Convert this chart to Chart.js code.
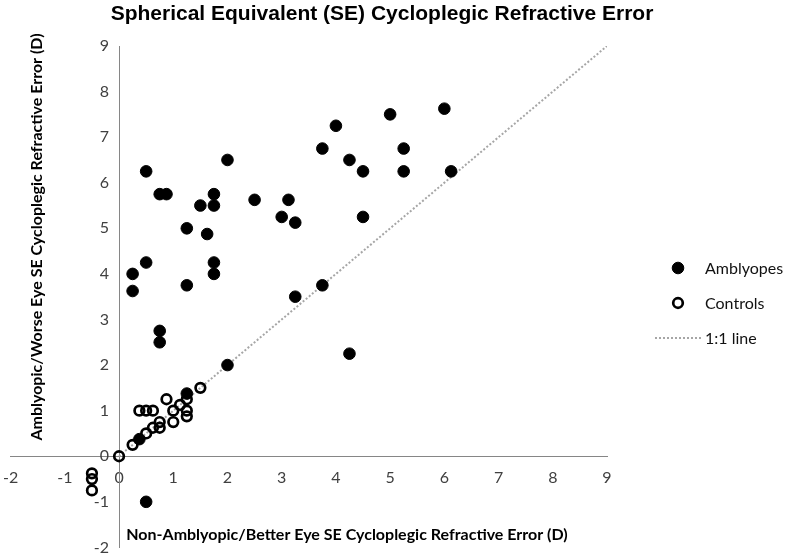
<!DOCTYPE html>
<html><head><meta charset="utf-8">
<script src="https://cdn.jsdelivr.net/npm/chart.js@4/dist/chart.umd.min.js"></script>
<style>html,body{margin:0;padding:0;background:#fff}#wrap{width:785px;height:560px}</style>
</head><body><div id="wrap"><canvas id="c" width="785" height="560"></canvas></div>
<script>
const chartTitle = 'Spherical Equivalent (SE) Cycloplegic Refractive Error';
const xAxisTitle = 'Non-Amblyopic/Better Eye SE Cycloplegic Refractive Error (D)';
const yAxisTitle = 'Amblyopic/Worse Eye SE Cycloplegic Refractive Error (D)';
const seriesNames = ['Amblyopes', 'Controls', '1:1 line'];

const amblyopesX = [0.5, 0.75, 0.875, 2, 1.75, 1.5, 1.75, 2.5, 3.125, 3, 3.25, 1.25, 1.625, 0.5, 1.75, 1.75, 0.25, 0.25, 1.25, 3.75, 3.25, 5, 4, 3.75, 4.25, 4.5, 4.5, 5.25, 5.25, 6, 6.125, 0.75, 0.75, 2, 4.25, 1.25, 0.375, 0.5];
const amblyopesY = [6.25, 5.75, 5.75, 6.5, 5.75, 5.5, 5.5, 5.625, 5.625, 5.25, 5.125, 5, 4.875, 4.25, 4.25, 4, 4, 3.625, 3.75, 3.75, 3.5, 7.5, 7.25, 6.75, 6.5, 6.25, 5.25, 6.75, 6.25, 7.625, 6.25, 2.75, 2.5, 2, 2.25, 1.375, 0.375, -1];

const controlsX = [0, -0.5, -0.5, -0.5, 0.25, 0.5, 0.625, 0.75, 0.75, 0.375, 0.5, 0.625, 0.875, 1, 1, 1.125, 1.25, 1.25, 1.25, 1.5];
const controlsY = [0, -0.375, -0.5, -0.75, 0.25, 0.5, 0.625, 0.75, 0.625, 1, 1, 1, 1.25, 1, 0.75, 1.125, 1.25, 1, 0.875, 1.5];

const unityLineX = [0, 9];
const unityLineY = [0, 9];

const axisMin = -2, axisMax = 9, axisStep = 1;

const toPoints = (xs, ys) => xs.map((x, i) => ({x: x, y: ys[i]}));

const tickFont = {family: 'Lato, "Open Sans", sans-serif', size: 16};
const tickColor = '#404040';
const axisColor = '#868686';

const decor = {
  id: 'decor',
  afterDraw(chart) {
    const ctx = chart.ctx;
    const ds = chart.data.datasets;
    ctx.save();
    ctx.fillStyle = '#000';
    ctx.textAlign = 'center';
    ctx.textBaseline = 'middle';
    ctx.font = 'bold 21px "Liberation Sans", Arial, sans-serif';
    ctx.fillText(chartTitle, 382, 14);

    ctx.font = 'bold 16px Lato, "Open Sans", sans-serif';
    ctx.fillText(xAxisTitle, 347, 535);
    ctx.save();
    ctx.translate(37, 237);
    ctx.rotate(-Math.PI / 2);
    ctx.fillText(yAxisTitle, 0, 0);
    ctx.restore();

    // legend
    const lx = 678, ly = [268, 303, 338], tx = 705;
    ctx.font = '16px Lato, "Open Sans", sans-serif';
    ctx.textAlign = 'left';
    ctx.beginPath();
    ctx.arc(lx, ly[0], ds[0].pointRadius, 0, Math.PI * 2);
    ctx.fillStyle = ds[0].backgroundColor; ctx.fill();
    ctx.lineWidth = ds[0].borderWidth; ctx.strokeStyle = ds[0].borderColor; ctx.stroke();
    ctx.beginPath();
    ctx.arc(lx, ly[1], ds[1].pointRadius, 0, Math.PI * 2);
    ctx.lineWidth = ds[1].borderWidth; ctx.strokeStyle = ds[1].borderColor; ctx.stroke();
    ctx.beginPath();
    ctx.setLineDash(ds[2].borderDash);
    ctx.lineWidth = ds[2].borderWidth; ctx.strokeStyle = ds[2].borderColor;
    ctx.moveTo(655, ly[2]); ctx.lineTo(701, ly[2]); ctx.stroke();
    ctx.setLineDash([]);
    ctx.fillStyle = '#111';
    for (let i = 0; i < 3; i++) ctx.fillText(seriesNames[i], tx, ly[i] + 1);
    ctx.restore();
  }
};

new Chart(document.getElementById('c'), {
  type: 'scatter',
  data: {
    datasets: [
      {
        label: seriesNames[0],
        data: toPoints(amblyopesX, amblyopesY),
        pointRadius: 5.8, pointHoverRadius: 5.8,
        backgroundColor: '#000', borderColor: '#000', borderWidth: 1,
        order: 2
      },
      {
        label: seriesNames[1],
        data: toPoints(controlsX, controlsY),
        pointRadius: 4.8, pointHoverRadius: 4.8,
        backgroundColor: 'rgba(0,0,0,0)', borderColor: '#000', borderWidth: 2.7,
        order: 1
      },
      {
        label: seriesNames[2],
        type: 'line',
        data: toPoints(unityLineX, unityLineY),
        showLine: true, pointRadius: 0, pointHoverRadius: 0,
        borderColor: '#A6A6A6', borderWidth: 2, borderDash: [2, 2],
        fill: false, tension: 0,
        order: 3
      }
    ]
  },
  options: {
    responsive: false,
    animation: false,
    devicePixelRatio: 1,
    layout: {padding: {left: 8, right: 178, top: 46, bottom: 8}},
    plugins: {legend: {display: false}, title: {display: false}, tooltip: {enabled: false}},
    scales: {
      x: {
        type: 'linear', min: axisMin, max: axisMax,
        position: {y: 0},
        grid: {display: true, drawOnChartArea: false, drawTicks: true, tickLength: 9, color: 'rgba(0,0,0,0)'},
        border: {display: true, color: axisColor, width: 1},
        ticks: {stepSize: axisStep, font: tickFont, color: tickColor, padding: 3, maxRotation: 0, autoSkip: false}
      },
      y: {
        type: 'linear', min: axisMin, max: axisMax,
        position: {x: 0},
        grid: {display: true, drawOnChartArea: false, drawTicks: true, tickLength: 8, color: 'rgba(0,0,0,0)'},
        border: {display: true, color: axisColor, width: 1},
        ticks: {stepSize: axisStep, font: tickFont, color: tickColor, padding: 3, autoSkip: false,
          callback: (v) => String(v) + '\u2002\u2009'}
      }
    }
  },
  plugins: [decor]
});
</script>
</body></html>
